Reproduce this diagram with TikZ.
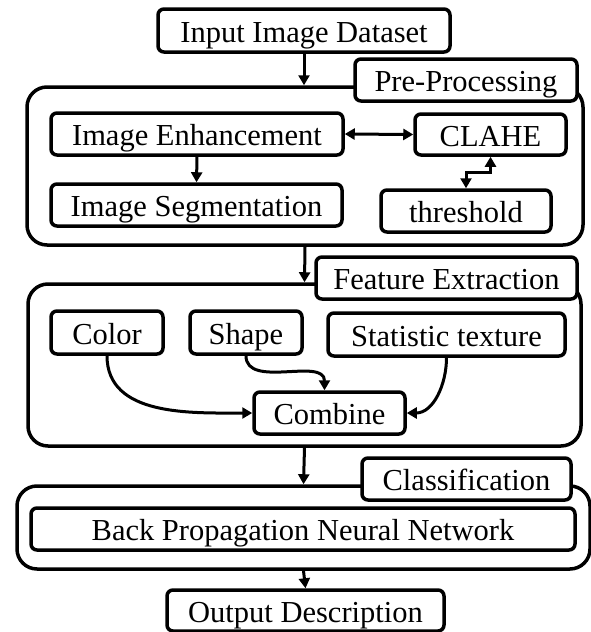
\documentclass[tikz,border=0pt]{standalone}
\usepackage{fontspec}
\setmainfont{Liberation Serif}
\usetikzlibrary{arrows.meta}
\tikzset{
  blk/.style={draw, line width=3.5pt, rounded corners=6pt, inner sep=0pt,
    fill=white, font=\fontsize{30.5}{30.5}\selectfont, text height=23pt, text depth=0pt},
  grp/.style={draw, line width=3.5pt, rounded corners=20pt, inner sep=0pt},
  arr/.style={line width=3pt, -{Triangle[length=10pt,width=11pt]}},
  darr/.style={line width=3pt, {Triangle[length=10pt,width=11pt]}-{Triangle[length=10pt,width=11pt]}}
}
\begin{document}
\begin{tikzpicture}[x=1pt,y=-1pt]
    \useasboundingbox (0,0) rectangle (591,632);
    % groups
    \node[grp, minimum width=556pt, minimum height=158pt] (pre) at (305,166) {};
    \node[grp, minimum width=553pt, minimum height=162pt] (feat) at (304.5,365) {};
    \node[grp, minimum width=573pt, minimum height=83pt] (cls) at (303.5,527.5) {};
    \node[blk, minimum width=222pt, minimum height=42pt] (preLab) at (466,80) {Pre-Processing};
    \node[blk, minimum width=261pt, minimum height=42pt] (featLab) at (446.5,278) {Feature Extraction};
    \node[blk, minimum width=209pt, minimum height=42pt] (clsLab) at (466.5,479) {Classification};
    % blocks
    \node[blk, minimum width=292pt, minimum height=43pt] (input) at (304,30.5) {Input Image Dataset};
    \node[blk, minimum width=292pt, minimum height=42pt] (enh) at (197,134) {Image Enhancement};
    \node[blk, minimum width=151pt, minimum height=41pt] (clahe) at (490.5,134.5) {CLAHE};
    \node[blk, minimum width=291pt, minimum height=42pt] (seg) at (196.5,205) {Image Segmentation};
    \node[blk, minimum width=170pt, minimum height=42pt] (thr) at (466,211) {threshold};
    \node[blk, minimum width=112pt, minimum height=43pt] (color) at (107,332.5) {Color};
    \node[blk, minimum width=112pt, minimum height=43pt] (shape) at (246,332.5) {Shape};
    \node[blk, minimum width=237pt, minimum height=43pt] (stat) at (446.5,334.5) {Statistic texture};
    \node[blk, minimum width=151pt, minimum height=42pt] (comb) at (329.5,413) {Combine};
    \node[blk, minimum width=544pt, minimum height=42pt] (bpnn) at (303,529) {Back Propagation Neural Network};
    \node[blk, minimum width=277pt, minimum height=41pt] (out) at (305.5,610.5) {Output Description};
    % connectors
    \draw[arr] (input.south) -- (input.south |- pre.north);
    \draw[darr] (enh.east) -- (clahe.west);
    \draw[arr] (enh.south) -- (seg.north);
    \draw[darr] (thr.north) -- ++(0,-16) -| (clahe.south);
    \draw[arr] (pre.south) -- (feat.north);
    \draw[arr] (color.south) to[out=-90, in=180] (comb.west);
    \draw[arr] (shape.south) to[out=-90, in=90] ([xshift=-5pt]comb.north);
    \draw[arr] (stat.south) to[out=-90, in=0] (comb.east);
    \draw[arr] (feat.south) -- (cls.north);
    \draw[arr] (cls.south) -- (out.north);
\end{tikzpicture}
\end{document}
